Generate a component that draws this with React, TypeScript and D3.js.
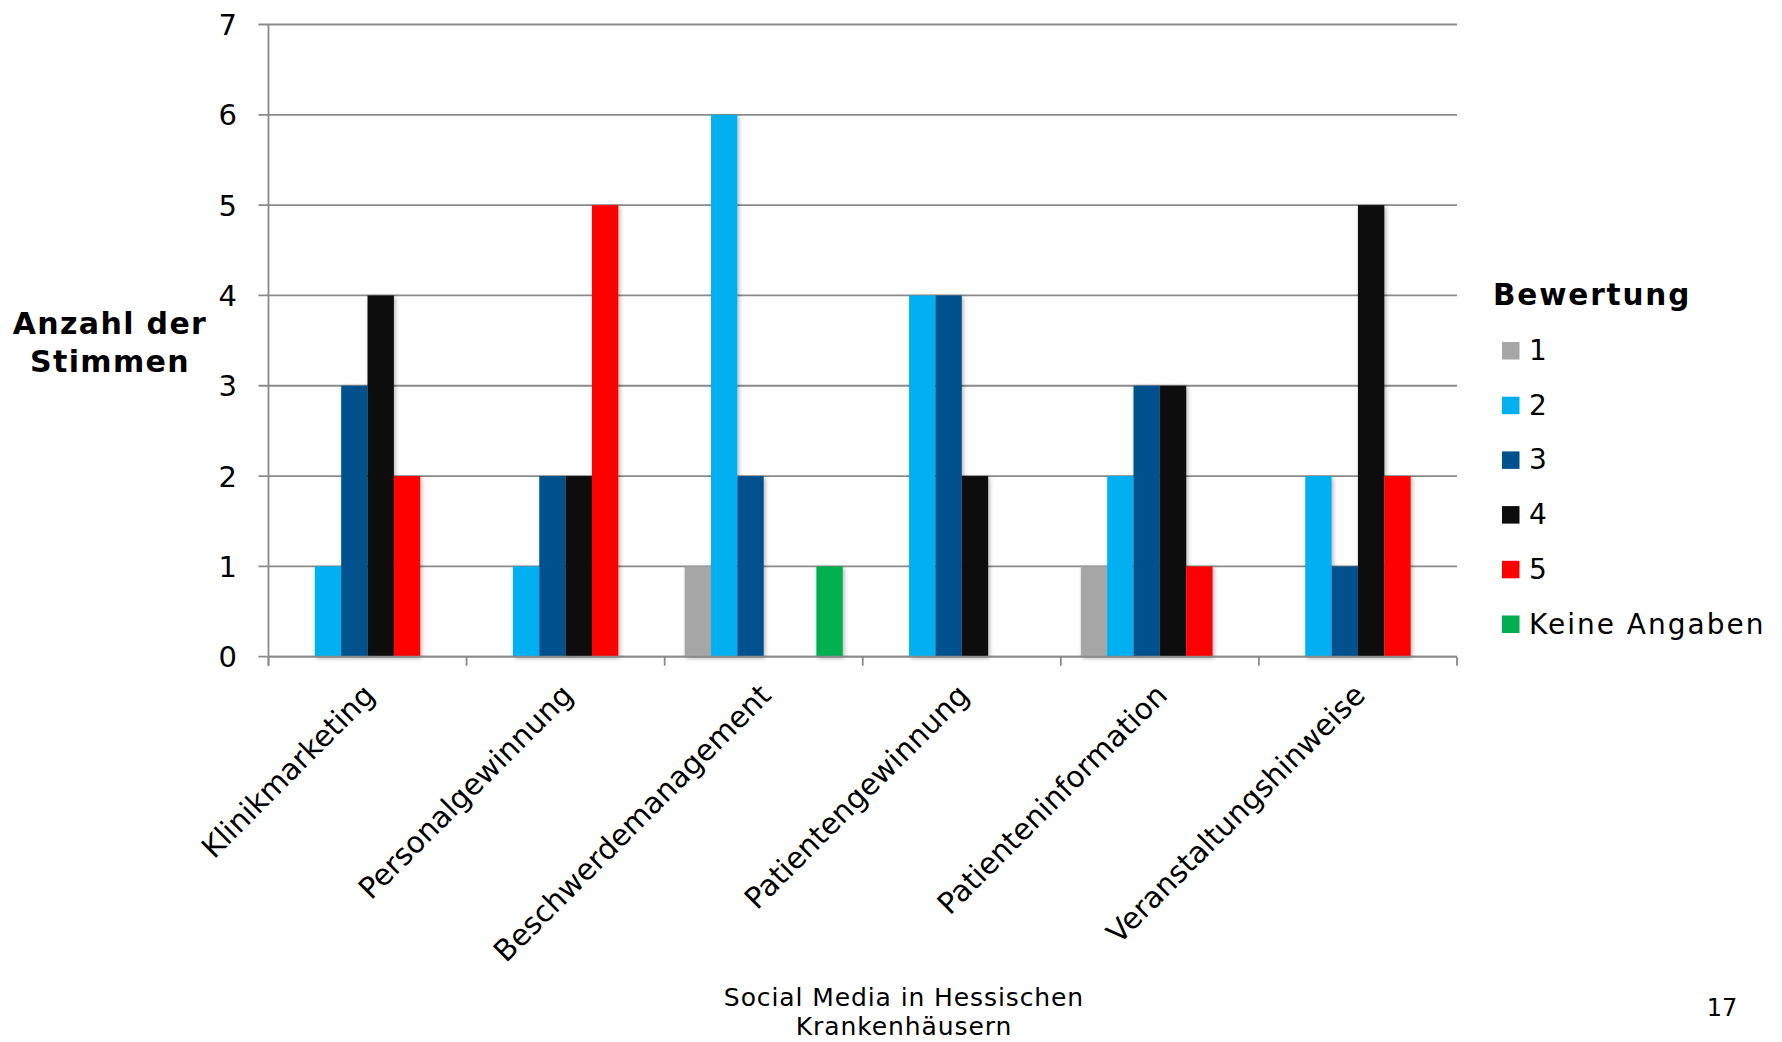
import React from 'react';
import * as d3 from 'd3';

// Survey result: number of votes per rating for each social media purpose
const categories = [
  'Klinikmarketing',
  'Personalgewinnung',
  'Beschwerdemanagement',
  'Patientengewinnung',
  'Patienteninformation',
  'Veranstaltungshinweise',
];
const seriesNames = ['1', '2', '3', '4', '5', 'Keine Angaben'];
const seriesColors = ['#A6A6A6', '#00B0F0', '#00518E', '#0D0D0D', '#FF0000', '#00B050'];
const rating1 = [0, 0, 1, 0, 1, 0];
const rating2 = [1, 1, 6, 4, 2, 2];
const rating3 = [3, 2, 2, 4, 3, 1];
const rating4 = [4, 2, 0, 2, 3, 5];
const rating5 = [2, 5, 0, 0, 1, 2];
const noAnswer = [0, 0, 1, 0, 0, 0];
const yTicks = [0, 1, 2, 3, 4, 5, 6, 7];

const seriesValues = [rating1, rating2, rating3, rating4, rating5, noAnswer];

const W = 1782;
const H = 1042;
const plot = { left: 268.5, right: 1457, top: 24.5, bottom: 656.7 };
const FONT = '"DejaVu Sans", Verdana, sans-serif';
const GRID = '#8A8A8A';

export default function App() {
  const x0 = d3.scaleBand<string>().domain(categories).range([plot.left, plot.right]).padding(0);
  const x1 = d3
    .scaleBand<string>()
    .domain(seriesNames)
    .range([0, x0.bandwidth()])
    .paddingInner(0)
    .paddingOuter(0.76);
  const y = d3.scaleLinear().domain([0, 7]).range([plot.bottom, plot.top]);

  const boundaries = categories.map((c) => x0(c) as number).concat([plot.right]);

  return (
    <svg
      width={W}
      height={H}
      viewBox={`0 0 ${W} ${H}`}
      style={{ position: 'absolute', left: 0, top: 0, background: '#fff' }}
    >
      <defs>
        <filter id="barShadow" x="-20%" y="-5%" width="140%" height="115%">
          <feDropShadow dx="1.5" dy="1.5" stdDeviation="2" floodColor="#000" floodOpacity="0.3" />
        </filter>
      </defs>
      <rect x={0} y={0} width={W} height={H} fill="#fff" />

      {/* horizontal gridlines with outward tick marks */}
      {yTicks.map((t) => (
        <line
          key={'g' + t}
          x1={plot.left - 10}
          x2={plot.right}
          y1={y(t)}
          y2={y(t)}
          stroke={GRID}
          strokeWidth={1.8}
        />
      ))}

      {/* y tick labels */}
      {yTicks.map((t) => (
        <text
          key={'yl' + t}
          x={237}
          y={y(t) + 10.5}
          textAnchor="end"
          fontFamily={FONT}
          fontSize={29}
          fill="#000"
        >
          {t}
        </text>
      ))}

      {/* bars */}
      {categories.map((c, ci) => (
        <g key={c} filter="url(#barShadow)">
          {seriesNames.map((s, si) => {
            const v = seriesValues[si][ci];
            if (v <= 0) return null;
            return (
              <rect
                key={s}
                x={(x0(c) as number) + (x1(s) as number)}
                y={y(v)}
                width={x1.bandwidth()}
                height={y(0) - y(v)}
                fill={seriesColors[si]}
              />
            );
          })}
        </g>
      ))}

      {/* axes */}
      <line x1={plot.left} x2={plot.left} y1={plot.top} y2={plot.bottom + 9} stroke={GRID} strokeWidth={1.8} />
      <line x1={plot.left} x2={plot.right} y1={plot.bottom} y2={plot.bottom} stroke={GRID} strokeWidth={1.8} />
      {boundaries.map((bx, i) => (
        <line key={'xt' + i} x1={bx} x2={bx} y1={plot.bottom} y2={plot.bottom + 9} stroke={GRID} strokeWidth={1.8} />
      ))}

      {/* category labels */}
      {categories.map((c) => {
        const cx = (x0(c) as number) + x0.bandwidth() / 2 + 9;
        const cy = 697;
        return (
          <text
            key={'xl' + c}
            transform={`translate(${cx},${cy}) rotate(-45)`}
            textAnchor="end"
            fontFamily={FONT}
            fontSize={29.5}
            fill="#000"
          >
            {c}
          </text>
        );
      })}

      {/* y axis title */}
      <text x={110} y={334} textAnchor="middle" fontFamily={FONT} fontSize={30} fontWeight="bold" letterSpacing={1.35}>
        Anzahl der
      </text>
      <text x={110} y={372} textAnchor="middle" fontFamily={FONT} fontSize={30} fontWeight="bold" letterSpacing={1.35}>
        Stimmen
      </text>

      {/* legend */}
      <text x={1493} y={305} fontFamily={FONT} fontSize={29.5} fontWeight="bold" letterSpacing={1.85}>
        Bewertung
      </text>
      {seriesNames.map((s, i) => {
        const by = 360 + i * 54.7;
        return (
          <g key={'lg' + s}>
            <rect x={1502} y={by - 18} width={17.5} height={17.5} fill={seriesColors[i]} />
            <text x={1529} y={by} fontFamily={FONT} fontSize={28} letterSpacing={2}>
              {s}
            </text>
          </g>
        );
      })}

      {/* footer */}
      <text x={904} y={1006} textAnchor="middle" fontFamily={FONT} fontSize={25} letterSpacing={0.9}>
        Social Media in Hessischen
      </text>
      <text x={904} y={1035} textAnchor="middle" fontFamily={FONT} fontSize={25} letterSpacing={0.9}>
        Krankenhäusern
      </text>
      <text x={1722} y={1016} textAnchor="middle" fontFamily={FONT} fontSize={24}>
        17
      </text>
    </svg>
  );
}
